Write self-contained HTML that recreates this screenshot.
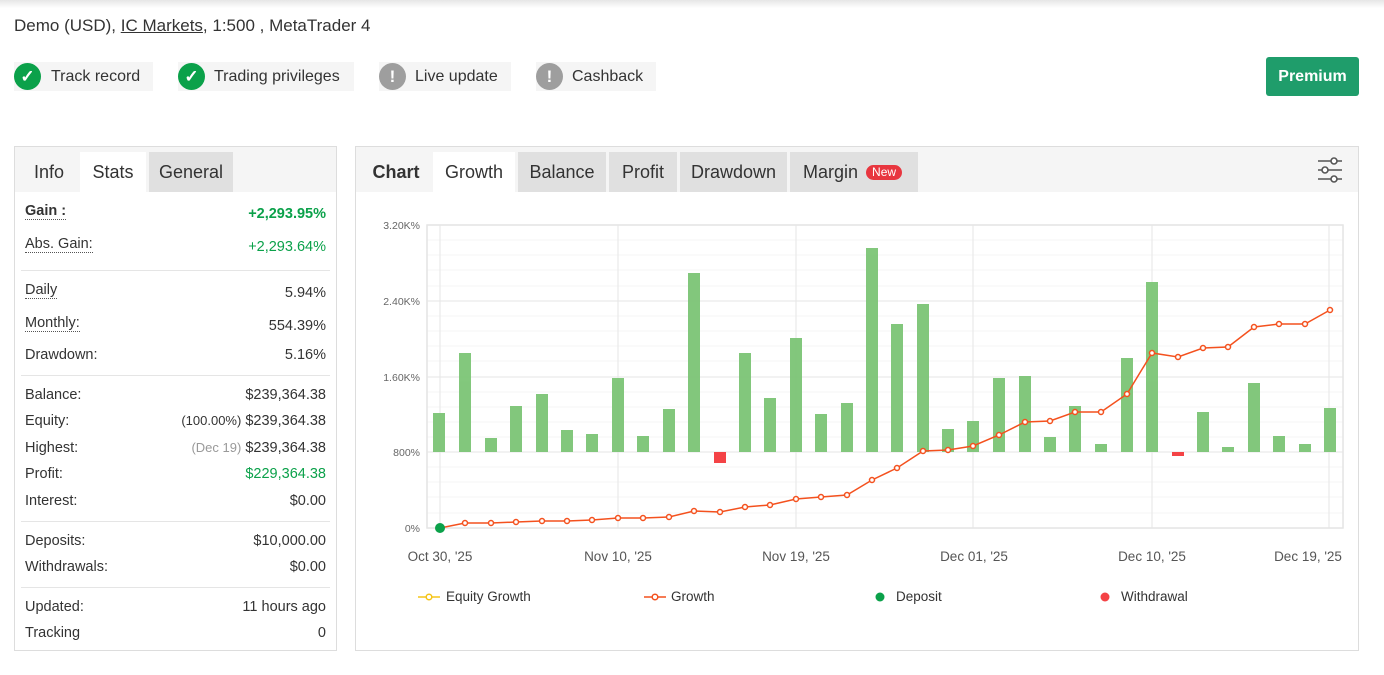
<!DOCTYPE html>
<html><head><meta charset="utf-8"><style>
*{margin:0;padding:0;box-sizing:border-box}
body{width:1384px;height:675px;background:#fff;font-family:"Liberation Sans",sans-serif;color:#333;position:relative;overflow:hidden}
.a{position:absolute;white-space:nowrap}
.topsh{position:absolute;left:0;top:0;width:1384px;height:8px;background:linear-gradient(#e6e6e6,#fff)}
.badge{position:absolute;top:62px;height:29px;background:#f5f5f5;font-size:16px;line-height:29px;color:#333}
.ic{position:absolute;left:0;top:1px;width:27px;height:27px;border-radius:50%;color:#fff;text-align:center;font-weight:bold;font-size:17px;line-height:27px}
.g{background:#0ba14a}.gr{background:#9e9e9e}
.panel{position:absolute;border:1px solid #ddd;background:#fff}
.tabs{position:absolute;left:0;top:0;right:0;height:45px;background:#f5f5f5}
.tab{position:absolute;top:5px;height:40px;line-height:40px;font-size:18px;text-align:center;color:#333}
.row{position:absolute;left:10px;right:10px;font-size:14.5px;color:#333}
.row .v{position:absolute;right:0;top:0}
.sep{position:absolute;left:6px;right:6px;height:1px;background:#e5e5e5}
.ul{border-bottom:1px dotted #555}
</style></head><body>
<div class="topsh"></div>
<div class="a" style="left:14px;top:16px;font-size:17px;color:#333">Demo (USD), <span style="text-decoration:underline">IC Markets</span>, 1:500 , MetaTrader 4</div>

<div class="badge" style="left:14px;width:139px"><div class="ic g">✓</div><span style="margin-left:37px">Track record</span></div>
<div class="badge" style="left:178px;width:176px"><div class="ic g">✓</div><span style="margin-left:36px">Trading privileges</span></div>
<div class="badge" style="left:379px;width:132px"><div class="ic gr">!</div><span style="margin-left:36px">Live update</span></div>
<div class="badge" style="left:536px;width:120px"><div class="ic gr">!</div><span style="margin-left:36px">Cashback</span></div>
<div class="a" style="left:1266px;top:57px;width:93px;height:39px;background:#1f9d6b;border-radius:3px;color:#fff;font-size:16px;font-weight:bold;line-height:39px;text-align:center">Premium</div>

<div class="panel" style="left:14px;top:146px;width:323px;height:505px">
 <div class="tabs">
  <div class="tab" style="left:4px;width:60px">Info</div>
  <div class="tab" style="left:65px;width:66px;background:#fff">Stats</div>
  <div class="tab" style="left:134px;width:84px;background:#e0e0e0">General</div>
 </div>
 <div class="row" style="top:56px"><span class="ul" style="font-weight:bold">Gain :</span><span class="v" style="color:#0ba14a;font-weight:bold;top:3px">+2,293.95%</span></div>
 <div class="row" style="top:89px"><span class="ul">Abs. Gain:</span><span class="v" style="color:#0ba14a;top:3px">+2,293.64%</span></div>
 <div class="sep" style="top:123px"></div>
 <div class="row" style="top:135px"><span class="ul">Daily</span><span class="v" style="top:3px">5.94%</span></div>
 <div class="row" style="top:168px"><span class="ul">Monthly:</span><span class="v" style="top:3px">554.39%</span></div>
 <div class="row" style="top:200px">Drawdown:<span class="v">5.16%</span></div>
 <div class="sep" style="top:228px"></div>
 <div class="row" style="top:240px">Balance:<span class="v">$239,364.38</span></div>
 <div class="row" style="top:266px">Equity:<span class="v"><span style="font-size:13px">(100.00%)</span> $239,364.38</span></div>
 <div class="row" style="top:293px">Highest:<span class="v"><span style="font-size:13px;color:#999">(Dec 19)</span> $239,364.38</span></div>
 <div class="row" style="top:319px">Profit:<span class="v" style="color:#0ba14a">$229,364.38</span></div>
 <div class="row" style="top:346px">Interest:<span class="v">$0.00</span></div>
 <div class="sep" style="top:374px"></div>
 <div class="row" style="top:386px">Deposits:<span class="v">$10,000.00</span></div>
 <div class="row" style="top:412px">Withdrawals:<span class="v">$0.00</span></div>
 <div class="sep" style="top:440px"></div>
 <div class="row" style="top:452px">Updated:<span class="v">11 hours ago</span></div>
 <div class="row" style="top:478px">Tracking<span class="v">0</span></div>
</div>

<div class="panel" style="left:355px;top:146px;width:1004px;height:505px">
 <div class="tabs">
  <div class="tab" style="left:4px;width:72px;font-weight:bold">Chart</div>
  <div class="tab" style="left:77px;width:82px;background:#fff">Growth</div>
  <div class="tab" style="left:162px;width:88px;background:#e0e0e0">Balance</div>
  <div class="tab" style="left:253px;width:68px;background:#e0e0e0">Profit</div>
  <div class="tab" style="left:324px;width:107px;background:#e0e0e0">Drawdown</div>
  <div class="tab" style="left:434px;width:128px;background:#e0e0e0;text-align:left;padding-left:13px">Margin <span style="display:inline-block;background:#e8363f;color:#fff;font-size:12px;line-height:15px;padding:0 6px;border-radius:8px;vertical-align:2px;margin-left:3px">New</span></div>
  <svg class="a" style="left:960px;top:10px" width="28" height="26" viewBox="0 0 28 26" fill="none" stroke="#555" stroke-width="1.6">
   <line x1="2" y1="4" x2="26" y2="4"/><line x1="2" y1="13" x2="26" y2="13"/><line x1="2" y1="22" x2="26" y2="22"/>
   <circle cx="18" cy="4" r="3" fill="#fff"/><circle cx="9" cy="13" r="3" fill="#fff"/><circle cx="18" cy="22" r="3" fill="#fff"/>
  </svg>
 </div>
</div>

<svg class="a" style="left:0;top:0" width="1384" height="675">
 <g stroke="#f4f4f4" stroke-width="1">
  <line x1="427" x2="1343" y1="240" y2="240"/><line x1="427" x2="1343" y1="255" y2="255"/><line x1="427" x2="1343" y1="270" y2="270"/><line x1="427" x2="1343" y1="286" y2="286"/>
  <line x1="427" x2="1343" y1="316" y2="316"/><line x1="427" x2="1343" y1="331" y2="331"/><line x1="427" x2="1343" y1="346" y2="346"/><line x1="427" x2="1343" y1="361" y2="361"/>
  <line x1="427" x2="1343" y1="392" y2="392"/><line x1="427" x2="1343" y1="407" y2="407"/><line x1="427" x2="1343" y1="422" y2="422"/><line x1="427" x2="1343" y1="437" y2="437"/>
  <line x1="427" x2="1343" y1="467" y2="467"/><line x1="427" x2="1343" y1="482" y2="482"/><line x1="427" x2="1343" y1="497" y2="497"/><line x1="427" x2="1343" y1="513" y2="513"/>
 </g>
 <g stroke="#e6e6e6" stroke-width="1">
  <line x1="427" x2="1343" y1="301" y2="301"/><line x1="427" x2="1343" y1="377" y2="377"/><line x1="427" x2="1343" y1="452" y2="452"/>
  <line x1="440" x2="440" y1="225" y2="528"/><line x1="618" x2="618" y1="225" y2="528"/><line x1="796" x2="796" y1="225" y2="528"/><line x1="973" x2="973" y1="225" y2="528"/><line x1="1152" x2="1152" y1="225" y2="528"/><line x1="1329" x2="1329" y1="225" y2="528"/>
 </g>
 <rect x="427" y="225" width="916" height="303" fill="none" stroke="#e4e4e4" stroke-width="1.5"/>
 <g font-size="10.5" fill="#666" text-anchor="end" font-family="Liberation Sans">
  <text x="420" y="229">3.20K%</text><text x="420" y="305">2.40K%</text><text x="420" y="381">1.60K%</text><text x="420" y="456">800%</text><text x="420" y="532">0%</text>
 </g>
 <g font-size="13.5" fill="#555" text-anchor="middle" font-family="Liberation Sans">
  <text x="440" y="561">Oct 30, '25</text><text x="618" y="561">Nov 10, '25</text><text x="796" y="561">Nov 19, '25</text><text x="974" y="561">Dec 01, '25</text><text x="1152" y="561">Dec 10, '25</text><text x="1308" y="561">Dec 19, '25</text>
 </g>
 <g fill="#7cc576" opacity="0.95">
  <rect x="433" y="413" width="12" height="39"/><rect x="459" y="353" width="12" height="99"/><rect x="485" y="438" width="12" height="14"/><rect x="510" y="406" width="12" height="46"/><rect x="536" y="394" width="12" height="58"/><rect x="561" y="430" width="12" height="22"/><rect x="586" y="434" width="12" height="18"/><rect x="612" y="378" width="12" height="74"/><rect x="637" y="436" width="12" height="16"/><rect x="663" y="409" width="12" height="43"/><rect x="688" y="273" width="12" height="179"/>
  <rect x="739" y="353" width="12" height="99"/><rect x="764" y="398" width="12" height="54"/><rect x="790" y="338" width="12" height="114"/><rect x="815" y="414" width="12" height="38"/><rect x="841" y="403" width="12" height="49"/><rect x="866" y="248" width="12" height="204"/><rect x="891" y="324" width="12" height="128"/><rect x="917" y="304" width="12" height="148"/><rect x="942" y="429" width="12" height="23"/><rect x="967" y="421" width="12" height="31"/><rect x="993" y="378" width="12" height="74"/><rect x="1019" y="376" width="12" height="76"/><rect x="1044" y="437" width="12" height="15"/><rect x="1069" y="406" width="12" height="46"/><rect x="1095" y="444" width="12" height="8"/><rect x="1121" y="358" width="12" height="94"/><rect x="1146" y="282" width="12" height="170"/>
  <rect x="1197" y="412" width="12" height="40"/><rect x="1222" y="447" width="12" height="5"/><rect x="1248" y="383" width="12" height="69"/><rect x="1273" y="436" width="12" height="16"/><rect x="1299" y="444" width="12" height="8"/><rect x="1324" y="408" width="12" height="44"/>
 </g>
 <rect x="714" y="452" width="12" height="11" fill="#f44346"/>
 <rect x="1172" y="452" width="12" height="4" fill="#f44346"/>
 <polyline fill="none" stroke="#f4511e" stroke-width="1.5" points="440,528 465,523 491,523 516,522 542,521 567,521 592,520 618,518 643,518 669,517 694,511 720,512 745,507 770,505 796,499 821,497 847,495 872,480 897,468 923,451 948,450 973,446 999,435 1025,422 1050,421 1075,412 1101,412 1127,394 1152,353 1178,357 1203,348 1228,347 1254,327 1279,324 1305,324 1330,310"/>
 <g fill="#fff" stroke="#f4511e" stroke-width="1.5">
  <circle cx="465" cy="523" r="2.5"/><circle cx="491" cy="523" r="2.5"/><circle cx="516" cy="522" r="2.5"/><circle cx="542" cy="521" r="2.5"/><circle cx="567" cy="521" r="2.5"/><circle cx="592" cy="520" r="2.5"/><circle cx="618" cy="518" r="2.5"/><circle cx="643" cy="518" r="2.5"/><circle cx="669" cy="517" r="2.5"/><circle cx="694" cy="511" r="2.5"/><circle cx="720" cy="512" r="2.5"/><circle cx="745" cy="507" r="2.5"/><circle cx="770" cy="505" r="2.5"/><circle cx="796" cy="499" r="2.5"/><circle cx="821" cy="497" r="2.5"/><circle cx="847" cy="495" r="2.5"/><circle cx="872" cy="480" r="2.5"/><circle cx="897" cy="468" r="2.5"/><circle cx="923" cy="451" r="2.5"/><circle cx="948" cy="450" r="2.5"/><circle cx="973" cy="446" r="2.5"/><circle cx="999" cy="435" r="2.5"/><circle cx="1025" cy="422" r="2.5"/><circle cx="1050" cy="421" r="2.5"/><circle cx="1075" cy="412" r="2.5"/><circle cx="1101" cy="412" r="2.5"/><circle cx="1127" cy="394" r="2.5"/><circle cx="1152" cy="353" r="2.5"/><circle cx="1178" cy="357" r="2.5"/><circle cx="1203" cy="348" r="2.5"/><circle cx="1228" cy="347" r="2.5"/><circle cx="1254" cy="327" r="2.5"/><circle cx="1279" cy="324" r="2.5"/><circle cx="1305" cy="324" r="2.5"/><circle cx="1330" cy="310" r="2.5"/>
 </g>
 <circle cx="440" cy="528" r="5" fill="#0ba14a"/>
 <g font-size="13.5" fill="#333" font-family="Liberation Sans">
  <line x1="418" x2="440" y1="597" y2="597" stroke="#f5c518" stroke-width="1.5"/><circle cx="429" cy="597" r="2.8" fill="#fff" stroke="#f5c518" stroke-width="1.5"/><text x="446" y="601">Equity Growth</text>
  <line x1="644" x2="666" y1="597" y2="597" stroke="#f4511e" stroke-width="1.5"/><circle cx="655" cy="597" r="2.8" fill="#fff" stroke="#f4511e" stroke-width="1.5"/><text x="671" y="601">Growth</text>
  <circle cx="880" cy="597" r="4.5" fill="#0ba14a"/><text x="896" y="601">Deposit</text>
  <circle cx="1105" cy="597" r="4.5" fill="#f44346"/><text x="1121" y="601">Withdrawal</text>
 </g>
</svg>
</body></html>
